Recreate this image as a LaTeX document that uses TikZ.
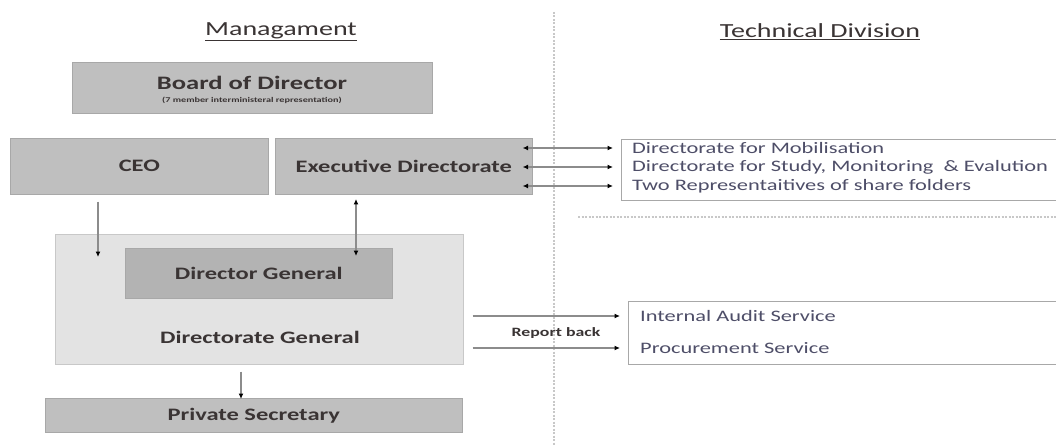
\documentclass[tikz,border=0pt]{standalone}
\usepackage{fontspec}
\setmainfont{Carlito}[FakeStretch=1.4]
\usetikzlibrary{arrows.meta}
\definecolor{boxgray}{HTML}{BFBFBF}
\definecolor{darkgray}{HTML}{B3B3B3}
\definecolor{lightgray}{HTML}{E3E3E3}
\definecolor{edgegray}{HTML}{A8A8A8}
\definecolor{textgray}{HTML}{3A3434}
\definecolor{listtext}{HTML}{4E4E68}
\definecolor{linegray}{HTML}{8C8C8C}
\definecolor{dotgray}{HTML}{C8C8C8}
\tikzset{
  unit/.style={draw=edgegray, line width=0.6pt, fill=boxgray, inner sep=0pt,
    anchor=north west, text=textgray, font=\fontsize{17.5}{19}\selectfont\bfseries},
  listbox/.style={draw=edgegray, line width=0.6pt, fill=white, inner sep=0pt, anchor=north west},
  listline/.style={anchor=west, inner sep=0pt, text=listtext, font=\fontsize{16}{18}\selectfont},
  heading/.style={text=textgray, font=\fontsize{20}{22}\selectfont},
  tip/.style={Latex[length=5.5pt,width=5pt,color=black]},
  link/.style={draw=linegray, line width=1.2pt, -{Latex[length=5.5pt,width=5pt,color=black]}},
  twoway/.style={draw=linegray, line width=1.2pt, {Latex[length=5.5pt,width=5pt,color=black]}-{Latex[length=5.5pt,width=5pt,color=black]}},
  divider/.style={draw=dotgray, line width=1.2pt, dash pattern=on 2pt off 1.5pt}
}
\begin{document}
\begin{tikzpicture}[x=1pt, y=-1pt]
\useasboundingbox[fill=white] (0,0) rectangle (1056,446);

% section headings
\node[heading] (mgmt) at (281,32) {\underline{Managament}};
\node[heading] (tech) at (820,32) {\underline{Technical Division}};

% dividers
\draw[divider] (554,12) -- (554,446);
\draw[divider] (578,217) -- (1056,217);

% management units
\node[unit, minimum width=360pt, minimum height=51pt] (board) at (72,62) {};
\node[text=textgray, font=\fontsize{19}{21}\selectfont\bfseries] (boardtitle) at (252,83) {Board of Director};
\node[text=textgray, font=\fontsize{7.3}{8}\selectfont\bfseries] (boardsub) at (252,100) {(7 member interministeral representation)};

\node[unit, minimum width=258pt, minimum height=56pt] (ceo) at (10,138) {CEO};
\node[unit, minimum width=257pt, minimum height=56pt] (exec) at (275,138) {Executive Directorate};

\node[unit, fill=lightgray, draw=dotgray, minimum width=408pt, minimum height=130pt] (dgen) at (55,234) {};
\node[text=textgray, font=\fontsize{17.5}{19}\selectfont\bfseries] (dgenlabel) at (260,337) {Directorate General};
\node[unit, fill=darkgray, minimum width=267pt, minimum height=50pt] (dg) at (125,248) {Director General};

\node[unit, minimum width=417pt, minimum height=34pt] (ps) at (45,398) {Private Secretary};

% technical division lists
\node[listbox, minimum width=450pt, minimum height=61pt] (techlist) at (621,139) {};
\node[listline] (mob) at (632,148) {Directorate for Mobilisation};
\node[listline] (study) at (632,167) {Directorate for Study, Monitoring \ \& Evalution};
\node[listline] (share) at (632,186) {Two Representaitives of share folders};

\node[listbox, minimum width=440pt, minimum height=63pt] (servlist) at (628,301) {};
\node[listline] (audit) at (640,316) {Internal Audit Service};
\node[listline] (proc) at (640,348) {Procurement Service};

% connector end points
\coordinate (ceotip) at (98,257);
\coordinate (dgtop) at (356,256);
\coordinate (edtip) at (356,199);
\coordinate (pstop) at (241,399);

% vertical links
\draw[link] (ceo.south -| ceotip) ++(0,7) -- (ceotip);
\draw[twoway] (edtip) -- (dgtop);
\draw[link] (dgen.south -| pstop) ++(0,7) -- (pstop);

% links to the technical division
\draw[twoway] (exec.east |- mob) ++(-10,0) -- ([xshift=-8pt]techlist.west |- mob);
\draw[twoway] (exec.east |- study) ++(-10,0) -- ([xshift=-8pt]techlist.west |- study);
\draw[twoway] (exec.east |- share) ++(-10,0) -- ([xshift=-8pt]techlist.west |- share);

\draw[link] ([xshift=9pt]dgen.east |- audit) -- ([xshift=-8pt]servlist.west |- audit);
\draw[link] ([xshift=9pt]dgen.east |- proc) -- ([xshift=-8pt]servlist.west |- proc);
\node[text=textgray, font=\fontsize{12.7}{14}\selectfont\bfseries] (report) at (556,333) {Report back};
\end{tikzpicture}
\end{document}
